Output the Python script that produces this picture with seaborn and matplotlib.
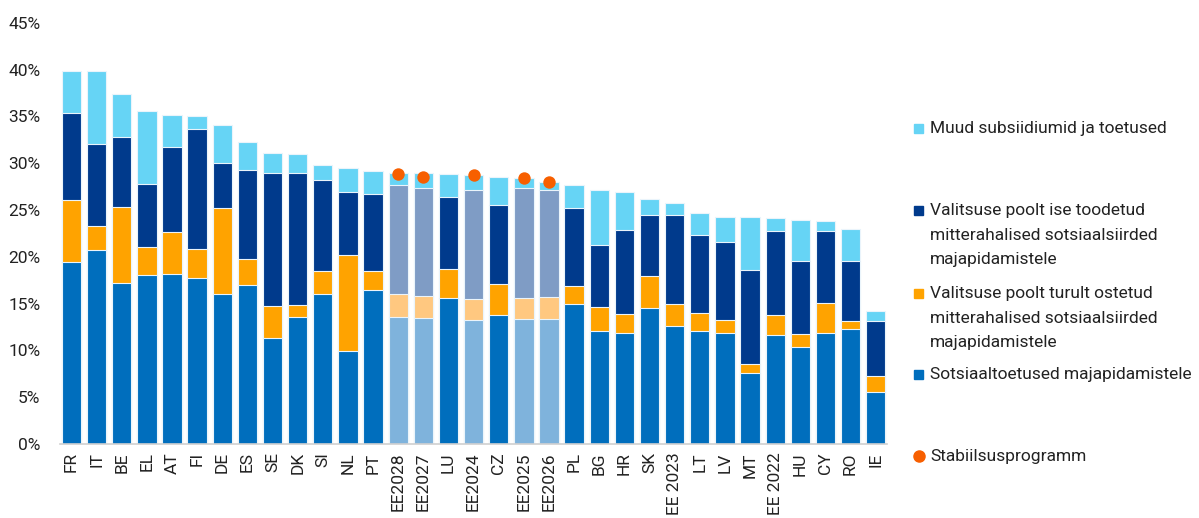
import matplotlib
matplotlib.use("Agg")
import matplotlib.pyplot as plt
import seaborn as sns
import pandas as pd
import numpy as np
from matplotlib.patches import Rectangle
from matplotlib.lines import Line2D

categories = ["FR", "IT", "BE", "EL", "AT", "FI", "DE", "ES", "SE", "DK", "SI", "NL", "PT",
              "EE2028", "EE2027", "LU", "EE2024", "CZ", "EE2025", "EE2026", "PL", "BG", "HR",
              "SK", "EE 2023", "LT", "LV", "MT", "EE 2022", "HU", "CY", "RO", "IE"]
# Sotsiaaltoetused majapidamistele
social_benefits = [19.4, 20.7, 17.2, 18.0, 18.2, 17.7, 16.0, 17.0, 11.3, 13.6, 16.0, 9.9, 16.5,
                   13.6, 13.5, 15.6, 13.2, 13.8, 13.4, 13.4, 14.9, 12.1, 11.8,
                   14.5, 12.6, 12.1, 11.9, 7.6, 11.6, 10.4, 11.9, 12.3, 5.5]
# Valitsuse poolt turult ostetud mitterahalised sotsiaalsiirded
purchased_inkind = [6.7, 2.6, 8.1, 3.0, 4.4, 3.1, 9.2, 2.8, 3.4, 1.2, 2.5, 10.3, 2.0,
                    2.4, 2.3, 3.1, 2.3, 3.3, 2.2, 2.3, 2.0, 2.5, 2.1,
                    3.4, 2.3, 1.9, 1.3, 0.9, 2.2, 1.3, 3.2, 0.8, 1.8]
# Valitsuse poolt ise toodetud mitterahalised sotsiaalsiirded
own_inkind = [9.3, 8.7, 7.5, 6.8, 9.1, 12.8, 4.8, 9.5, 14.3, 14.2, 9.7, 6.7, 8.2,
              11.7, 11.6, 7.7, 11.6, 8.4, 11.7, 11.4, 8.3, 6.7, 9.0,
              6.6, 9.6, 8.3, 8.4, 10.1, 8.9, 7.8, 7.6, 6.4, 5.8]
# Muud subsiidiumid ja toetused
other_subsidies = [4.5, 7.8, 4.6, 7.8, 3.5, 1.4, 4.1, 3.0, 2.1, 2.0, 1.6, 2.6, 2.5,
                   1.3, 1.5, 2.4, 1.6, 3.0, 1.1, 0.9, 2.5, 5.8, 4.0,
                   1.7, 1.2, 2.4, 2.7, 5.6, 1.4, 4.4, 1.1, 3.5, 1.1]
projection_bars = ["EE2028", "EE2027", "EE2024", "EE2025", "EE2026"]
stability_programme = {"EE2028": 28.8, "EE2027": 28.5, "EE2024": 28.7, "EE2025": 28.4, "EE2026": 28.0}
y_ticks = [0, 5, 10, 15, 20, 25, 30, 35, 40, 45]

legend_labels = ["Muud subsiidiumid ja toetused",
                 "Valitsuse poolt ise toodetud\nmitterahalised sotsiaalsiirded\nmajapidamistele",
                 "Valitsuse poolt turult ostetud\nmitterahalised sotsiaalsiirded\nmajapidamistele",
                 "Sotsiaaltoetused majapidamistele",
                 "Stabiilsusprogramm"]

sns.set_style("white")
plt.rcParams["font.family"] = ["Roboto", "DejaVu Sans"]

df = pd.DataFrame({"cat": categories, "soc": social_benefits, "pur": purchased_inkind,
                   "own": own_inkind, "oth": other_subsidies})
df["c1"] = df["soc"]
df["c2"] = df["c1"] + df["pur"]
df["c3"] = df["c2"] + df["own"]
df["c4"] = df["c3"] + df["oth"]

col_oth = "#66D4F5"
col_own = "#003A8C"
col_pur = "#FFA300"
col_soc = "#006EBD"
fade = {col_oth: "#66D4F5", col_own: "#7F9CC5", col_pur: "#FFC880", col_soc: "#7FB3DC"}

fig = plt.figure(figsize=(11.99, 5.18), dpi=100)
ax = fig.add_axes([0.05, 0.143, 0.69, 0.813])

for col, color in [("c4", col_oth), ("c3", col_own), ("c2", col_pur), ("c1", col_soc)]:
    pal = {c: (fade[color] if c in projection_bars else color) for c in categories}
    sns.barplot(data=df, x="cat", y=col, hue="cat", palette=pal, order=categories,
                hue_order=categories, dodge=False, width=0.77, legend=False, ax=ax,
                edgecolor="#EAF4FB", linewidth=0.8, saturation=1)

dots = pd.DataFrame({"cat": list(stability_programme.keys()),
                     "val": list(stability_programme.values())})
dots["pos"] = [categories.index(c) for c in dots["cat"]]
ax.scatter(dots["pos"], dots["val"], s=80, color="#F75F00", zorder=5, linewidths=0)

ax.set_xlim(-0.46, len(categories) - 1 + 0.46)
ax.set_ylim(0, 45)
ax.set_yticks(y_ticks)
ax.set_yticklabels([f"{t}%" for t in y_ticks], fontsize=12.5, color="#222222")
ax.set_xticks(range(len(categories)))
ax.set_xticklabels(categories, rotation=90, fontsize=12.5, color="#222222")
ax.set_xlabel("")
ax.set_ylabel("")
ax.tick_params(axis="x", length=0, pad=6)
ax.tick_params(axis="y", length=0, pad=14)
for s in ["top", "right", "left"]:
    ax.spines[s].set_visible(False)
ax.spines["bottom"].set_color("#D0D0D0")
ax.spines["bottom"].set_linewidth(1.2)

# manual legend
W, H = 1199, 518
items = [(128, col_oth, "sq"), (210, col_own, "sq"), (293, col_pur, "sq"),
         (374, col_soc, "sq"), (456, "#F75F00", "dot")]
for (ypx, color, kind), label in zip(items, legend_labels):
    if kind == "sq":
        fig.patches.append(Rectangle((914 / W, 1 - (ypx + 4.5) / H), 9 / W, 9 / H,
                                     transform=fig.transFigure, color=color, figure=fig))
    else:
        fig.add_artist(Line2D([919 / W], [1 - ypx / H], marker="o", markersize=8,
                              color=color, transform=fig.transFigure, linestyle="none"))
    fig.text(930 / W, 1 - (ypx - 7) / H, label, fontsize=12.5, color="#222222",
             va="top", ha="left", linespacing=1.8)

fig.savefig("out.png", dpi=100)
